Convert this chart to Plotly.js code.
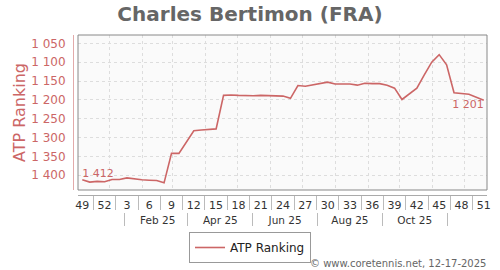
<!DOCTYPE html>
<html>
<head>
<meta charset="utf-8">
<script src="https://cdn.plot.ly/plotly-3.0.1.min.js"></script>
<style>html,body{margin:0;padding:0;background:#fff;}#chart{width:500px;height:270px;}</style>
</head>
<body>
<div id="chart"></div>
<script>
// ---- data ----
const weekDates = [
  '2024-12-06','2024-12-13','2024-12-20','2024-12-27',
  '2025-01-03','2025-01-10','2025-01-17','2025-01-24','2025-01-31',
  '2025-02-07','2025-02-14','2025-02-21','2025-02-28',
  '2025-03-07','2025-03-14','2025-03-21','2025-03-28',
  '2025-04-04','2025-04-11','2025-04-18','2025-04-25',
  '2025-05-02','2025-05-09','2025-05-16','2025-05-23','2025-05-30',
  '2025-06-06','2025-06-13','2025-06-20','2025-06-27',
  '2025-07-04','2025-07-11','2025-07-18','2025-07-25',
  '2025-08-01','2025-08-08','2025-08-15','2025-08-22','2025-08-29',
  '2025-09-05','2025-09-12','2025-09-19','2025-09-26',
  '2025-10-03','2025-10-10','2025-10-17','2025-10-24','2025-10-31',
  '2025-11-07','2025-11-14','2025-11-21','2025-11-28',
  '2025-12-05','2025-12-12','2025-12-19'
];
const weekNums = [49,50,51,52,1,2,3,4,5,6,7,8,9,10,11,12,13,14,15,16,17,18,19,20,21,22,23,24,25,26,27,28,29,30,31,32,33,34,35,36,37,38,39,40,41,42,43,44,45,46,47,48,49,50,51];
const atpRank = [
  1412,1418,1416,1417,1411,1411,1407,1410,1412,1413,1414,1420,
  1342,1342,1312,1282,1280,1279,1277,
  1188,1187,1188,1189,1189,1188,1188,1188,1190,1196,
  1162,1164,1160,1157,1153,1158,1158,1158,1161,1156,1157,1157,1161,1169,
  1199,1185,1169,1134,1100,1080,1107,1181,1182,1185,1193,1201
];
const monthLabels = ['Feb 25','Apr 25','Jun 25','Aug 25','Oct 25'];
const monthCenters = ['2025-02-15','2025-04-15','2025-06-15','2025-08-15','2025-10-15'];
const monthBounds = ['2025-01-15','2025-03-15','2025-05-15','2025-07-15','2025-09-15','2025-11-15'];
const seriesName = 'ATP Ranking';
const playerTitle = 'Charles Bertimon (FRA)';
const creditText = '\u00a9 www.coretennis.net, 12-17-2025';

// ---- derived ----
const fmt = v => String(v).replace(/\B(?=(\d{3})+(?!\d))/g, ' ');
const toMs = s => Date.parse(s + 'T00:00:00Z');
const msToStr = ms => { const s = new Date(ms).toISOString(); return s.slice(0,10) + ' ' + s.slice(11,19); };

const tickIdx = [];
for (let i = 0; i < weekDates.length; i += 3) tickIdx.push(i);
const weekTickVals = tickIdx.map(i => weekDates[i]);
const weekTickText = tickIdx.map(i => String(weekNums[i]));
const weekSeps = [];
for (let k = 0; k < weekTickVals.length - 1; k++) {
  weekSeps.push(msToStr((toMs(weekTickVals[k]) + toMs(weekTickVals[k+1])) / 2));
}

const xRange = ['2024-12-01 23:00', '2025-12-22 01:00'];
const font = 'DejaVu Sans, Verdana, sans-serif';
const red = '#cc6666';

const last = atpRank.length - 1;
const helper = ax => ({
  type: 'scatter', mode: 'markers', xaxis: ax, yaxis: 'y',
  x: [weekDates[0]], y: [atpRank[0]],
  marker: {opacity: 0, size: 1}, showlegend: false, hoverinfo: 'skip'
});
const traces = [
  helper('x3'),
  helper('x2'),
  {
    type: 'scatter', mode: 'lines', name: seriesName,
    x: weekDates, y: atpRank,
    line: {color: red, width: 1.6},
    hoverinfo: 'x+y'
  },
  {
    type: 'scatter', mode: 'text', showlegend: false,
    x: [weekDates[0], weekDates[last]],
    y: [atpRank[0], atpRank[last]],
    text: [fmt(atpRank[0]), fmt(atpRank[last])],
    textposition: ['top right', 'bottom left'],
    textfont: {family: font, size: 11, color: red},
    hoverinfo: 'skip'
  }
];

const plotTop = 35, plotBottom = 212, plotLeft = 73, plotRight = 487;
const H = plotBottom - plotTop, W = plotRight - plotLeft;

const layout = {
  width: 500, height: 270,
  margin: {l: plotLeft, r: 500 - plotRight, t: plotTop, b: 270 - plotBottom, pad: 0, autoexpand: false},
  paper_bgcolor: '#ffffff',
  plot_bgcolor: '#fafafa',
  separators: '. ',
  font: {family: font, size: 11, color: '#333'},
  title: {
    text: playerTitle,
    font: {family: font, size: 20, color: '#666666', weight: 'bold'},
    x: 0.5, xref: 'container', xanchor: 'center',
    y: 1 - 13.5 / 270, yref: 'container', yanchor: 'middle'
  },
  showlegend: true,
  legend: {
    orientation: 'h',
    x: (250 - plotLeft) / W, xanchor: 'center',
    y: (plotBottom - 232) / H, yanchor: 'top',
    bgcolor: '#ffffff', bordercolor: '#999999', borderwidth: 1,
    font: {family: font, size: 12, color: '#222'}
  },
  xaxis: {
    type: 'date', range: xRange,
    domain: [5 / W, 1],
    anchor: 'free', position: (plotBottom - 194.5) / H,
    tickmode: 'array', tickvals: weekTickVals, ticktext: weekTickText,
    ticks: '', showgrid: false, zeroline: false,
    showline: true, linecolor: '#aaaaaa', linewidth: 1,
    tickfont: {family: font, size: 11, color: '#333'},
    minor: {tickmode: 'array', tickvals: weekSeps, ticks: 'outside', ticklen: 14, tickwidth: 1, tickcolor: '#bbbbbb', showgrid: false},
    fixedrange: true
  },
  xaxis2: {
    type: 'date', range: xRange, overlaying: 'x',
    domain: [5 / W, 1],
    anchor: 'free', position: 0,
    tickmode: 'array', tickvals: monthCenters, ticktext: monthLabels,
    ticks: '', showgrid: false, zeroline: false, showline: false,
    tickfont: {family: font, size: 10.5, color: '#333'},
    minor: {tickmode: 'array', tickvals: monthBounds, ticks: 'outside', ticklen: 13, tickwidth: 1, tickcolor: '#bbbbbb', showgrid: false},
    fixedrange: true
  },
  xaxis3: {
    type: 'date', range: xRange, overlaying: 'x',
    domain: [5 / W, 1],
    anchor: 'y',
    tickmode: 'linear', tick0: '2025-01-01', dtick: 'M1',
    showticklabels: false, ticks: '', showline: false, zeroline: false,
    showgrid: true, gridcolor: '#dddddd', gridwidth: 1, griddash: '3px,3px',
    fixedrange: true
  },
  yaxis: {
    range: [1439, 1028],
    domain: [(plotBottom - 190) / H, 1],
    anchor: 'free', position: 0,
    tickmode: 'linear', tick0: 1050, dtick: 50, tickformat: ',d',
    ticks: '', ticklabelstandoff: 5,
    showgrid: true, gridcolor: '#dddddd', gridwidth: 1, griddash: '3px,3px',
    zeroline: false,
    showline: true, linecolor: '#e2aaaa', linewidth: 1,
    tickfont: {family: font, size: 12, color: red},
    title: {text: seriesName, font: {family: font, size: 16, color: red}, standoff: 0},
    fixedrange: true
  },
  shapes: [
    {type: 'rect', xref: 'x domain', yref: 'y domain', x0: 0, x1: 1, y0: 0, y1: 1,
     line: {color: '#888888', width: 1}, fillcolor: 'rgba(0,0,0,0)', layer: 'above'}
  ],
  annotations: [
    {text: creditText, xref: 'paper', yref: 'paper',
     x: (488 - plotLeft) / W, xanchor: 'right',
     y: (plotBottom - 263) / H, yanchor: 'middle',
     showarrow: false, font: {family: font, size: 10, color: '#666666'}}
  ]
};

Plotly.newPlot('chart', traces, layout, {displayModeBar: false, staticPlot: true});
</script>
</body>
</html>
